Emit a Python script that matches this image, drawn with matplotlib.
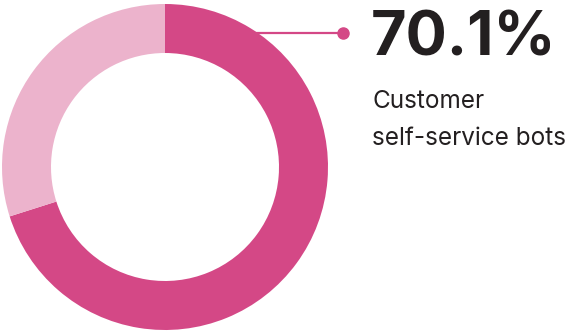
import matplotlib.pyplot as plt

# share of respondents
labels = ["Customer self-service bots", "Other"]
shares = [70.1, 29.9]
colors = ["#d44886", "#ecb3cc"]

headline = "70.1%"
caption_lines = ["Customer", "self-service bots"]

W, H = 566, 333
fig = plt.figure(figsize=(W / 100, H / 100), dpi=100)
ax = fig.add_axes([0, 0, 1, 1])

# work in pixel units, y measured from the top
def py(y):
    return H - y

cx, cy, r = 165, 167, 163
ax.pie(shares, colors=colors, startangle=90, counterclock=False,
       center=(cx, py(cy)), radius=r, frame=True,
       wedgeprops=dict(width=49, linewidth=0))
ax.set_xlim(0, W)
ax.set_ylim(0, H)
ax.set_aspect("equal")
ax.axis("off")

# leader line to the label
ax.plot([250, 343], [py(33), py(33)], color="#d44886", lw=1.6, zorder=1)
ax.plot(343, py(33), "o", color="#d44886", ms=8, zorder=3)

ax.text(371, py(55), headline, fontsize=44, fontweight="bold", family="Inter",
        color="#231f20", ha="left", va="baseline")
for i, line in enumerate(caption_lines):
    ax.text(372, py(108 + 37 * i), line, fontsize=17.5, family="Inter",
            color="#231f20", ha="left", va="baseline")

fig.savefig("out.png", dpi=100)
